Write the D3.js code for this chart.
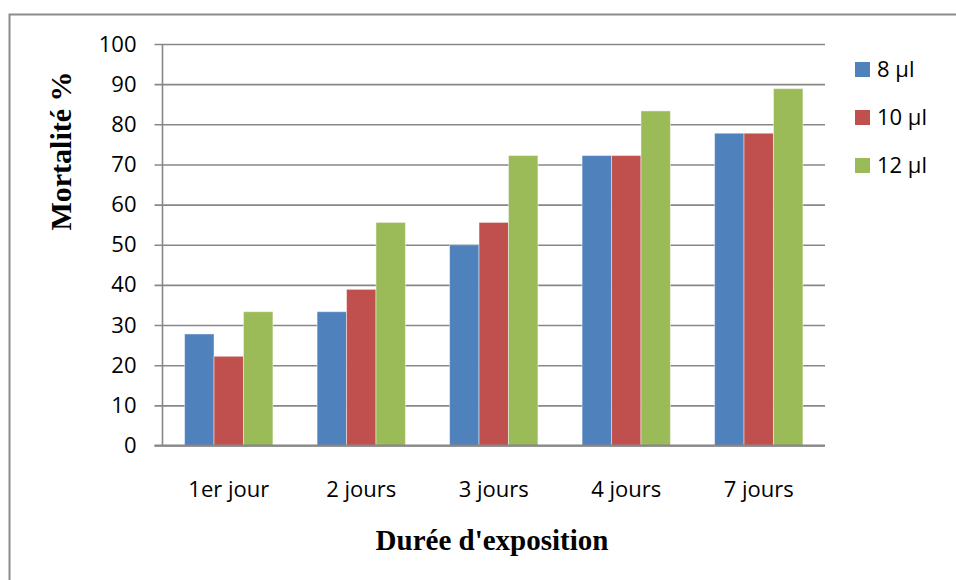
<!DOCTYPE html>
<html>
<head>
<meta charset="utf-8">
<script src="https://cdn.jsdelivr.net/npm/d3@7"></script>
<style>
  html, body { margin: 0; padding: 0; background: #fff; }
  svg { display: block; }
</style>
</head>
<body>
<svg id="chart" width="956" height="580"></svg>
<script>
// Mortality (%) by exposure duration for three doses
const categories = ["1er jour", "2 jours", "3 jours", "4 jours", "7 jours"];
const seriesNames = ["8 µl", "10 µl", "12 µl"];
const dose8 = [27.78, 33.33, 50.00, 72.22, 77.78];
const dose10 = [22.22, 38.89, 55.56, 72.22, 77.78];
const dose12 = [33.33, 55.56, 72.22, 83.33, 88.89];
const yTicks = [0, 10, 20, 30, 40, 50, 60, 70, 80, 90, 100];
const colors = ["#4F81BD", "#C0504D", "#9BBB59"];

const series = [dose8, dose10, dose12];
const table = categories.map((c, i) => ({
  cat: c,
  vals: series.map((s, k) => ({ key: seriesNames[k], k, v: s[i] }))
}));

const svg = d3.select("#chart");
const plot = { left: 162.5, right: 825, top: 44, bottom: 445.5 };
const labelFont = "'Open Sans', Lato, sans-serif";
const titleFont = "'Liberation Serif', 'Times New Roman', serif";

// outer frame (top and left edges)
svg.append("path")
  .attr("d", "M9.5,580 V14.5 H956")
  .attr("fill", "none").attr("stroke", "#8c8c8c").attr("stroke-width", 2);

const x0 = d3.scaleBand().domain(categories).range([plot.left, plot.right]).paddingInner(1 / 3).paddingOuter(1 / 6);
const x1 = d3.scaleBand().domain(seriesNames).range([0, x0.bandwidth()]);
const y = d3.scaleLinear().domain([0, 100]).range([plot.bottom, plot.top]);

// horizontal gridlines with left tick marks
const yAxis = d3.axisLeft(y).tickValues(yTicks).tickSize(-(plot.right - plot.left)).tickPadding(26);
const gy = svg.append("g").attr("transform", `translate(${plot.left},0)`).call(yAxis);
gy.select(".domain").remove();
gy.selectAll(".tick line").attr("stroke", "#878787").attr("stroke-width", 1.6).attr("x1", -8);
gy.selectAll(".tick text")
  .attr("fill", "#000").attr("font-family", labelFont).attr("font-size", 22);

// bars
const groups = svg.append("g").selectAll("g").data(table).join("g")
  .attr("transform", d => `translate(${x0(d.cat)},0)`);
groups.selectAll("rect").data(d => d.vals).join("rect")
  .attr("x", d => x1(d.key))
  .attr("width", x1.bandwidth())
  .attr("y", d => y(d.v))
  .attr("height", d => y(0) - y(d.v))
  .attr("fill", d => colors[d.k])
  .attr("stroke", "rgba(255,255,255,0.45)")
  .attr("stroke-width", 1);

// axis lines
svg.append("line").attr("x1", plot.left).attr("x2", plot.left).attr("y1", plot.top).attr("y2", plot.bottom)
  .attr("stroke", "#878787").attr("stroke-width", 1.6);
const xAxis = d3.axisBottom(x0).tickSize(0);
const gx = svg.append("g").attr("transform", `translate(0,${plot.bottom})`).call(xAxis);
gx.select(".domain").attr("stroke", "#878787").attr("stroke-width", 2).attr("d", `M${plot.left - 8},0H${plot.right}`);
gx.selectAll(".tick text").attr("fill", "#000").attr("font-family", labelFont).attr("font-size", 22)
  .attr("y", 51).attr("dy", 0);

// axis titles
svg.append("text")
  .attr("transform", "translate(71,151) rotate(-90)")
  .attr("text-anchor", "middle")
  .attr("font-family", titleFont)
  .attr("font-weight", "bold").attr("font-size", 30)
  .text("Mortalité %");
svg.append("text")
  .attr("x", 492).attr("y", 550)
  .attr("text-anchor", "middle")
  .attr("font-family", titleFont)
  .attr("font-weight", "bold").attr("font-size", 29)
  .text("Durée d'exposition");

// legend
const legend = svg.append("g").selectAll("g").data(seriesNames).join("g")
  .attr("transform", (d, i) => `translate(855,${62 + i * 48})`);
legend.append("rect").attr("width", 15).attr("height", 15).attr("fill", (d, i) => colors[i]);
legend.append("text").attr("x", 22).attr("y", 15)
  .attr("font-family", labelFont).attr("font-size", 22).attr("fill", "#000")
  .text(d => d);
</script>
</body>
</html>
